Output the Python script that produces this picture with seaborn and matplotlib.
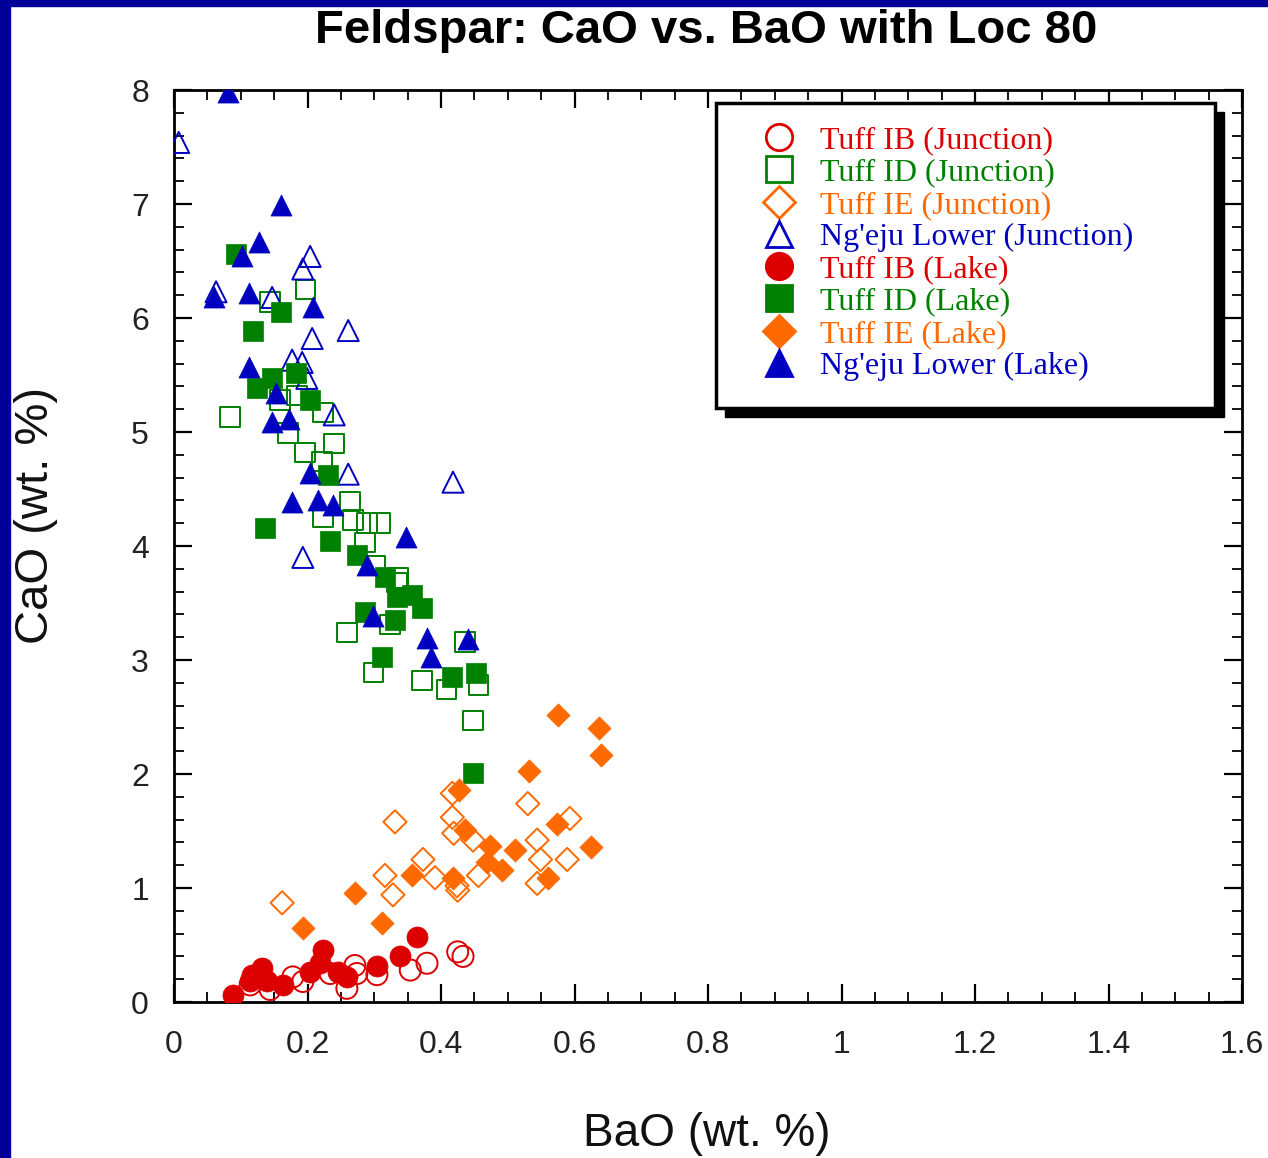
import numpy as np
import pandas as pd
import matplotlib
matplotlib.use("Agg")
import matplotlib.pyplot as plt
from matplotlib.lines import Line2D
from matplotlib.patches import Rectangle
from matplotlib.ticker import MultipleLocator
from matplotlib import font_manager
import seaborn as sns

# ---------------- data ----------------
ib_junction_bao = [0.144, 0.178, 0.193, 0.271, 0.259, 0.274, 0.304, 0.354, 0.379, 0.425, 0.433, 0.234, 0.114]
ib_junction_cao = [0.11, 0.22, 0.18, 0.32, 0.12, 0.25, 0.24, 0.28, 0.34, 0.44, 0.40, 0.25, 0.15]

id_junction_bao = [0.197, 0.144, 0.184, 0.159, 0.223, 0.084, 0.171, 0.240, 0.196, 0.222,
                   0.264, 0.223, 0.268, 0.289, 0.309, 0.286, 0.336, 0.301, 0.334, 0.324,
                   0.259, 0.436, 0.299, 0.372, 0.408, 0.456, 0.448]
id_junction_cao = [6.25, 6.14, 5.32, 5.28, 5.17, 5.13, 4.99, 4.90, 4.82, 4.74,
                   4.39, 4.25, 4.23, 4.20, 4.20, 4.03, 3.72, 3.83, 3.68, 3.31,
                   3.24, 3.16, 2.89, 2.82, 2.74, 2.78, 2.47]

ie_junction_bao = [0.530, 0.417, 0.417, 0.331, 0.593, 0.419, 0.448, 0.544, 0.549, 0.589,
                   0.373, 0.316, 0.391, 0.456, 0.544, 0.425, 0.328, 0.162, 0.424]
ie_junction_cao = [1.74, 1.83, 1.62, 1.58, 1.61, 1.48, 1.42, 1.42, 1.25, 1.25,
                   1.25, 1.11, 1.09, 1.11, 1.04, 0.98, 0.94, 0.87, 1.02]

ng_junction_bao = [0.007, 0.204, 0.193, 0.063, 0.147, 0.261, 0.207, 0.177, 0.192, 0.199,
                   0.240, 0.261, 0.418, 0.193]
ng_junction_cao = [7.54, 6.54, 6.43, 6.23, 6.18, 5.89, 5.82, 5.63, 5.61, 5.47,
                   5.15, 4.63, 4.56, 3.90]

ib_lake_bao = [0.088, 0.117, 0.132, 0.114, 0.139, 0.163, 0.204, 0.223, 0.219, 0.246,
               0.259, 0.304, 0.339, 0.364]
ib_lake_cao = [0.06, 0.24, 0.30, 0.18, 0.18, 0.15, 0.26, 0.46, 0.34, 0.26,
               0.22, 0.32, 0.40, 0.57]

id_lake_bao = [0.093, 0.160, 0.118, 0.147, 0.183, 0.124, 0.204, 0.231, 0.136, 0.234,
               0.274, 0.316, 0.357, 0.334, 0.372, 0.286, 0.331, 0.311, 0.417, 0.453, 0.448]
id_lake_cao = [6.56, 6.05, 5.89, 5.47, 5.52, 5.39, 5.28, 4.62, 4.16, 4.04,
               3.92, 3.73, 3.57, 3.55, 3.46, 3.42, 3.35, 3.03, 2.85, 2.89, 2.01]

ie_lake_bao = [0.575, 0.636, 0.639, 0.532, 0.427, 0.574, 0.436, 0.474, 0.511, 0.624,
               0.469, 0.492, 0.357, 0.418, 0.561, 0.271, 0.193, 0.312]
ie_lake_cao = [2.52, 2.40, 2.17, 2.03, 1.86, 1.56, 1.51, 1.37, 1.33, 1.36,
               1.23, 1.16, 1.11, 1.09, 1.09, 0.96, 0.65, 0.69]

ng_lake_bao = [0.081, 0.160, 0.127, 0.102, 0.060, 0.112, 0.208, 0.112, 0.153, 0.147,
               0.172, 0.204, 0.177, 0.216, 0.238, 0.348, 0.289, 0.298, 0.379, 0.385, 0.440]
ng_lake_cao = [7.98, 6.99, 6.67, 6.54, 6.18, 6.22, 6.10, 5.57, 5.34, 5.09,
               5.11, 4.64, 4.39, 4.40, 4.36, 4.08, 3.83, 3.39, 3.19, 3.03, 3.18]

series_names = ["Tuff IB (Junction)", "Tuff ID (Junction)", "Tuff IE (Junction)",
                "Ng'eju Lower (Junction)", "Tuff IB (Lake)", "Tuff ID (Lake)",
                "Tuff IE (Lake)", "Ng'eju Lower (Lake)"]
series_x = [ib_junction_bao, id_junction_bao, ie_junction_bao, ng_junction_bao,
            ib_lake_bao, id_lake_bao, ie_lake_bao, ng_lake_bao]
series_y = [ib_junction_cao, id_junction_cao, ie_junction_cao, ng_junction_cao,
            ib_lake_cao, id_lake_cao, ie_lake_cao, ng_lake_cao]

# ---------------- style ----------------
RED, GREEN, ORANGE, BLUE = "#dd0000", "#008000", "#ff6a00", "#0000c0"
colors = [RED, GREEN, ORANGE, BLUE, RED, GREEN, ORANGE, BLUE]
markers = ["o", "s", "D", "^", "o", "s", "D", "^"]
filled = [False, False, False, False, True, True, True, True]
sizes = {"o": 230, "s": 200, "D": 140, "^": 230}

sns.set_theme(style="white")
avail = {f.name for f in font_manager.fontManager.ttflist}
sans = "Liberation Sans" if "Liberation Sans" in avail else "DejaVu Sans"
serif = "Liberation Serif" if "Liberation Serif" in avail else "DejaVu Serif"
plt.rcParams["font.family"] = [sans, "DejaVu Sans"]

frames = []
for name, xs, ys in zip(series_names, series_x, series_y):
    frames.append(pd.DataFrame({"BaO": xs, "CaO": ys, "series": name}))
df = pd.concat(frames, ignore_index=True)

W, H = 1268, 1158
fig = plt.figure(figsize=(W / 100, H / 100), dpi=100, facecolor="white")
# blue border strips
fig.patches.append(Rectangle((0, 0), 10 / W, 1, transform=fig.transFigure,
                             color="#000099", zorder=0))
fig.patches.append(Rectangle((0, 1 - 6 / H), 1, 6 / H, transform=fig.transFigure,
                             color="#000099", zorder=0))

AX_L, AX_R, AX_T, AX_B = 174, 1242, 90, 1002
AW, AH = AX_R - AX_L, AX_B - AX_T
ax = fig.add_axes([AX_L / W, 1 - AX_B / H, AW / W, AH / H])
ax.set_facecolor("white")

for name, c, m, f in zip(series_names, colors, markers, filled):
    sub = df[df["series"] == name]
    sns.scatterplot(data=sub, x="BaO", y="CaO", ax=ax, color=c, marker=m,
                    s=sizes[m], edgecolor=c, linewidth=1.4 if not f else 0.5,
                    legend=False, zorder=3)
    coll = ax.collections[-1]
    if not f:
        coll.set_facecolor("none")
    coll.set_edgecolor(c)

ax.set_xlim(0, 1.6)
ax.set_ylim(0, 8)
ax.xaxis.set_minor_locator(MultipleLocator(0.05))
ax.yaxis.set_minor_locator(MultipleLocator(0.2))
ax.set_xticks(np.arange(0, 1.61, 0.2))
ax.set_xticklabels(["0", "0.2", "0.4", "0.6", "0.8", "1", "1.2", "1.4", "1.6"])
ax.set_yticks(np.arange(0, 9, 1))
ax.set_yticklabels([str(i) for i in range(9)])
ax.tick_params(which="both", direction="in", top=True, right=True,
               bottom=True, left=True, color="black")
ax.tick_params(which="major", length=13, width=1.6, labelsize=23,
               labelcolor="#222222")
ax.tick_params(axis="x", which="major", pad=20)
ax.tick_params(axis="y", which="major", pad=18)
ax.tick_params(which="minor", length=7, width=1.3)
for sp in ax.spines.values():
    sp.set_visible(True)
    sp.set_color("black")
    sp.set_linewidth(2.0)

ax.set_xlabel("BaO (wt. %)", fontsize=33, color="#111111")
ax.xaxis.set_label_coords((707 - AX_L) / AW, (AX_B - 1112) / AH)
ax.set_ylabel("CaO (wt. %)", fontsize=34, color="#111111")
ax.yaxis.set_label_coords((58 - AX_L) / AW, (AX_B - 515) / AH)
fig.text(706 / W, 1 - 31 / H, "Feldspar: CaO vs. BaO with Loc 80", ha="center",
         va="center", fontsize=34, fontweight="bold", color="black")

# legend frame with hard shadow
x0, y0 = (716 - AX_L) / AW, (AX_B - 408) / AH
w, h = (1215 - 716) / AW, (408 - 103) / AH
ax.add_patch(Rectangle((x0 + 9 / AW, y0 - 9 / AH), w, h, transform=ax.transAxes,
                       facecolor="black", edgecolor="black", zorder=6))
ax.add_patch(Rectangle((x0, y0), w, h, transform=ax.transAxes,
                       facecolor="white", edgecolor="black", linewidth=2.5, zorder=7))

handles = []
for name, c, m, f in zip(series_names, colors, markers, filled):
    handles.append(Line2D([], [], linestyle="none", marker=m,
                          markersize=19 if m != "D" else 16,
                          markerfacecolor=c if f else "white",
                          markeredgecolor=c, markeredgewidth=2.0))
leg = ax.legend(handles=handles, labels=series_names, loc="upper left",
                bbox_to_anchor=((757 - AX_L) / AW, (AX_B - 126) / AH),
                frameon=False, handlelength=1.4, handletextpad=0.58,
                labelspacing=0.09, borderpad=0.0, borderaxespad=0.0,
                prop={"family": serif, "size": 23})
leg.set_zorder(8)
for txt, c in zip(leg.get_texts(), colors):
    txt.set_color(c)

fig.savefig("out.png", dpi=100, facecolor="white")
